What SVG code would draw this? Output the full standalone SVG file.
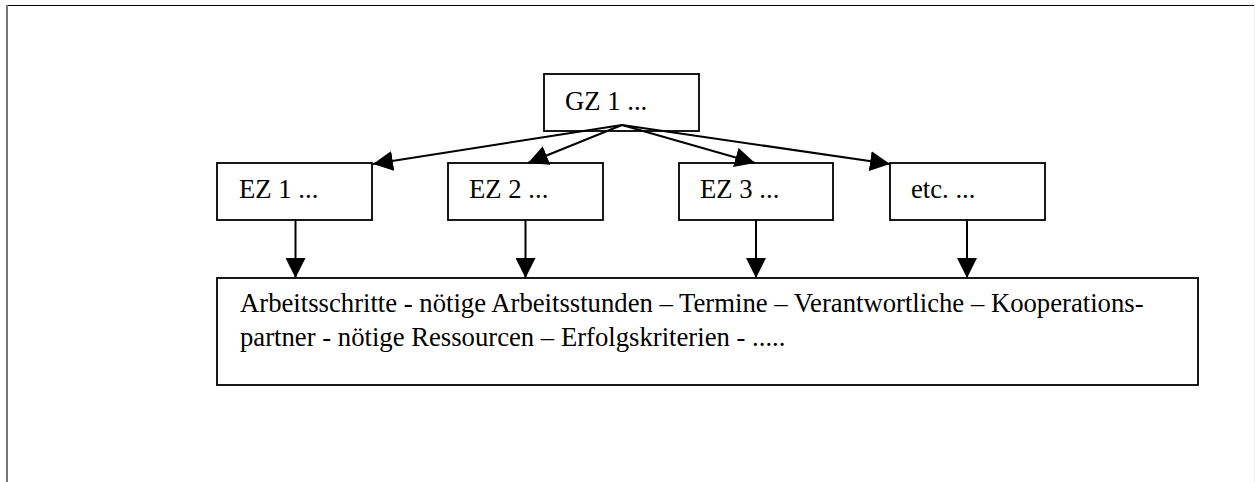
<svg xmlns="http://www.w3.org/2000/svg" width="1255" height="482" viewBox="0 0 1255 482">
<style>
.box{fill:#fff;stroke:#000;stroke-width:1.8}
.con{stroke:#000;stroke-width:2;fill:none}
</style>
<defs>
<marker id="ah" viewBox="0 0 20 20" refX="20" refY="10" markerWidth="20" markerHeight="20" markerUnits="userSpaceOnUse" orient="auto">
<path d="M0,0 L20,10 L0,20 z" fill="#000"/>
</marker>
</defs>
<rect width="1255" height="482" fill="#fff"/>
<g id="frame">
<line x1="6" y1="5.5" x2="1255" y2="5.5" stroke="#000" stroke-width="1.2"/>
<line x1="7" y1="5" x2="7" y2="482" stroke="#777" stroke-width="2"/>
<line x1="1254.5" y1="5" x2="1254.5" y2="482" stroke="#eee" stroke-width="1"/>
</g>
<g font-family="Liberation Serif, DejaVu Serif, serif" font-size="26.7" fill="#000">
<g id="gz1">
<rect class="box" x="544" y="74" width="155" height="57"/>
<text x="565" y="110">GZ 1 ...</text>
</g>
<g id="ez1">
<rect class="box" x="217" y="163" width="155" height="57"/>
<text x="239" y="198">EZ 1 ...</text>
</g>
<g id="ez2">
<rect class="box" x="448" y="163" width="155" height="57"/>
<text x="469" y="198">EZ 2 ...</text>
</g>
<g id="ez3">
<rect class="box" x="679" y="163" width="154" height="57"/>
<text x="700" y="198">EZ 3 ...</text>
</g>
<g id="etc">
<rect class="box" x="890" y="163" width="155" height="57"/>
<text x="911" y="198">etc. ...</text>
</g>
<g id="details">
<rect class="box" x="217" y="278" width="981" height="107"/>
<text x="240" y="312">Arbeitsschritte - nötige Arbeitsstunden – Termine – Verantwortliche – Kooperations-</text>
<text x="240" y="346">partner - nötige Ressourcen – Erfolgskriterien - .....</text>
</g>
</g>
<g id="connectors">
<line class="con" x1="622" y1="125" x2="373" y2="164" marker-end="url(#ah)"/>
<line class="con" x1="622" y1="125" x2="528" y2="163" marker-end="url(#ah)"/>
<line class="con" x1="622" y1="125" x2="755" y2="163" marker-end="url(#ah)"/>
<line class="con" x1="622" y1="125" x2="890" y2="164" marker-end="url(#ah)"/>
<line class="con" x1="295.5" y1="220" x2="295.5" y2="278" marker-end="url(#ah)"/>
<line class="con" x1="525.5" y1="220" x2="525.5" y2="278" marker-end="url(#ah)"/>
<line class="con" x1="756" y1="220" x2="756" y2="278" marker-end="url(#ah)"/>
<line class="con" x1="967" y1="220" x2="967" y2="278" marker-end="url(#ah)"/>
</g>
</svg>
